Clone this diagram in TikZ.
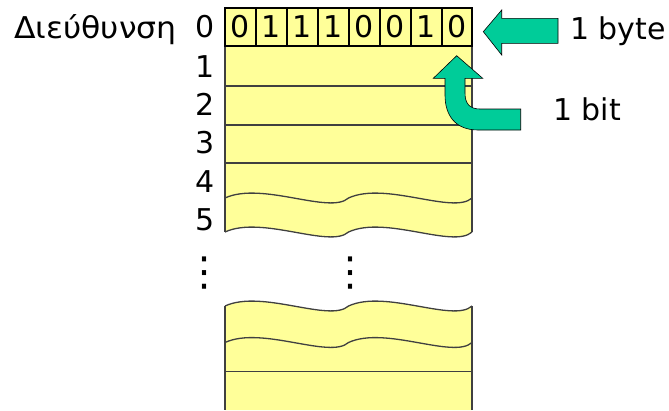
\documentclass[tikz,border=0pt]{standalone}
\usepackage{fontspec}
\setmainfont{DejaVu Sans}
\newfontfamily\dotfont{DejaVu Sans}
\definecolor{memyellow}{RGB}{255,255,153}
\definecolor{arrowteal}{RGB}{0,204,153}
\definecolor{rowline}{RGB}{64,64,64}
\newcommand\wavyline[1]{(225,#1) .. controls (262,#1-17) and (330,#1+17) .. (348.5,#1) .. controls (385.5,#1-17) and (453.5,#1+17) .. (472,#1)}
\tikzset{
  lbl/.style={anchor=base, inner sep=0pt, font=\fontsize{30}{34}\selectfont},
  lblw/.style={anchor=base west, inner sep=0pt, font=\fontsize{30}{34}\selectfont},
  edge/.style={draw=rowline, line width=1.3pt},
  bigarrow/.style={fill=arrowteal, draw=black, line width=0.6pt, line join=miter},
  dots/.style={inner sep=0pt, font=\dotfont\fontsize{40}{44}\selectfont}
}
\begin{document}
\begin{tikzpicture}[x=1pt, y=-1pt]
\useasboundingbox (0,0) rectangle (669,410);
% upper memory block
\fill[memyellow] (225,46) -- (225,232) -- \wavyline{232} -- (472,46) -- cycle;
\draw[edge] (225,46) -- (225,232);
\draw[edge] (472,46) -- (472,232);
\draw[edge] \wavyline{232};
\draw[edge] \wavyline{198};
\draw[edge] (225,86) -- (472,86);
\draw[edge] (225,125) -- (472,125);
\draw[edge] (225,163) -- (472,163);
% lower memory block
\fill[memyellow] \wavyline{306} -- (472,410) -- (225,410) -- cycle;
\draw[edge] (225,306) -- (225,410);
\draw[edge] (472,306) -- (472,410);
\draw[edge] \wavyline{306};
\draw[edge] \wavyline{342.5};
\draw[edge] (225,371.7) -- (472,371.7);
% byte row
\fill[memyellow] (225,8) rectangle (472,46);
\foreach \k in {1,...,7} \draw[line width=1.8pt] (225+31*\k,8) -- (225+31*\k,46);
\draw[line width=2.6pt] (225,8) rectangle (472,46);
\foreach \b [count=\i from 0] in {0,1,1,1,0,0,1,0}
  \node[lbl] (bit\i) at (240.5+31*\i,37.5) {\b};
% address labels
\node[lblw] (addr) at (14,38) {\scalebox{1.05}[1]{Διεύθυνση}};
\node[lbl] (a0) at (205,37.5) {0};
\node[lbl] (a1) at (205,77) {1};
\node[lbl] (a2) at (205,115) {2};
\node[lbl] (a3) at (205,153) {3};
\node[lbl] (a4) at (205,192) {4};
\node[lbl] (a5) at (205,230) {5};
% dots
\node[dots] (dl) at (204.3,273.5) {⋮};
\node[dots] (dr) at (350.7,273.5) {⋮};
% byte arrow
\draw[bigarrow] (483.3,31.7) -- (501.7,10) -- (501.7,18.3) -- (558,18.3) -- (558,43.3) -- (501.7,43.3) -- (501.7,55) -- cycle;
\node[lblw] (byte) at (570,39) {1 byte};
% bit arrow
\draw[bigarrow] (456.7,55.7) -- (482.7,78.3) -- (465,78.3) -- (465,93) .. controls (465,104) and (470,109) .. (480,109) -- (520.7,109) -- (520.7,130) -- (478,130) .. controls (455,130) and (445,115) .. (445,95) -- (445,78.3) -- (433.3,78.3) -- cycle;
\node[lblw] (bit) at (553,120) {1 bit};
\end{tikzpicture}
\end{document}
